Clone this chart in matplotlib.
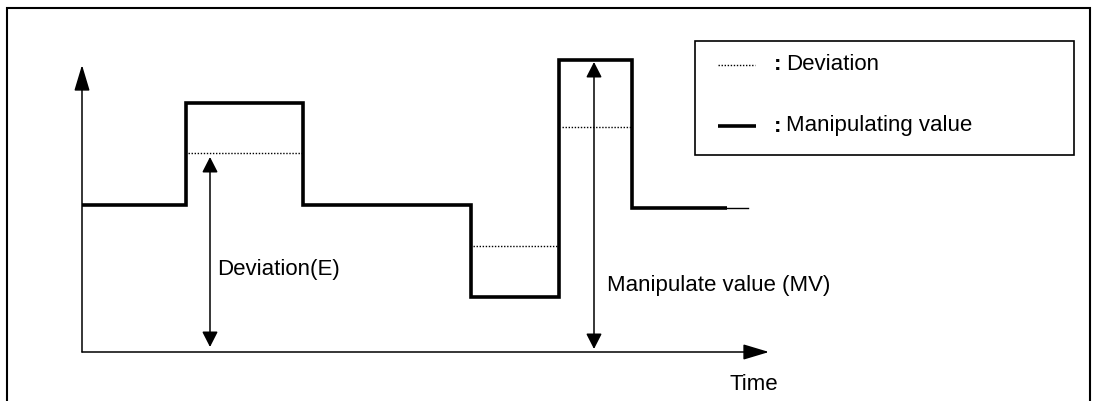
import matplotlib.pyplot as plt
from matplotlib.patches import Rectangle

# step signal, origin at the corner of the two axes
mv_t = [0, 104, 221, 389, 477, 550, 645]
mv_level = [147, 249, 147, 55, 292, 144, 144]
mv_tail = [645, 666]

dev_segments = [(106, 221, 199), (391, 476, 106), (480, 550, 225)]

FONT = ['Liberation Sans', 'DejaVu Sans']

fig = plt.figure(figsize=(10.93, 4.01), dpi=100)
ax = fig.add_axes([0, 0, 1, 1])
ax.set_xlim(-82, 1011)
ax.set_ylim(-49, 352)
ax.axis('off')

# outer frame
ax.add_patch(Rectangle((-75, -80), 1083, 424, fill=False, lw=1.5, ec='black'))

# axes with arrows
arrow_axis = dict(arrowstyle='-|>,head_length=0.8,head_width=0.24', color='black',
                  lw=1.1, shrinkA=0, shrinkB=0, mutation_scale=20)
ax.annotate('', xy=(0, 287), xytext=(0, 0), arrowprops=arrow_axis)
ax.annotate('', xy=(687, 0), xytext=(0, 0), arrowprops=arrow_axis)

# manipulating value (thick step)
ax.step(mv_t, mv_level, where='post', color='black', lw=2.6,
        solid_joinstyle='miter', solid_capstyle='butt')
ax.plot(mv_tail, [mv_level[-1]] * 2, color='black', lw=1.0)

# deviation (dotted)
for x0, x1, y in dev_segments:
    ax.plot([x0, x1], [y, y], color='black', lw=1.0, linestyle=(0, (1, 1.2)))

# double arrows
arrow_dbl = dict(arrowstyle='<|-|>,head_length=0.47,head_width=0.24', color='black',
                 lw=1.1, shrinkA=0, shrinkB=0, mutation_scale=20)
ax.annotate('', xy=(128, 195), xytext=(128, 5), arrowprops=arrow_dbl)
ax.annotate('', xy=(512, 290), xytext=(512, 3), arrowprops=arrow_dbl)

fs = 16
ax.text(135, 82, 'Deviation(E)', fontsize=fs, family=FONT, va='center', ha='left')
ax.text(525, 67, 'Manipulate value (MV)', fontsize=fs, family=FONT, va='center', ha='left')
ax.text(648, -33, 'Time', fontsize=fs, family=FONT, va='center', ha='left')

# legend box
ax.add_patch(Rectangle((613, 197), 379, 114, fill=False, lw=1.2, ec='black'))
ax.plot([636, 673], [287, 287], color='black', lw=1.0, linestyle=(0, (1, 1.2)))
ax.plot([636, 674], [226, 226], color='black', lw=2.6, solid_capstyle='butt')
ax.text(692, 287, ':', fontsize=fs, family=FONT, weight='bold', va='center', ha='left')
ax.text(704, 287, 'Deviation', fontsize=fs, family=FONT, va='center', ha='left')
ax.text(692, 226, ':', fontsize=fs, family=FONT, weight='bold', va='center', ha='left')
ax.text(704, 226, 'Manipulating value', fontsize=fs, family=FONT, va='center', ha='left')

fig.savefig('out.png', dpi=100)
plt.close(fig)
